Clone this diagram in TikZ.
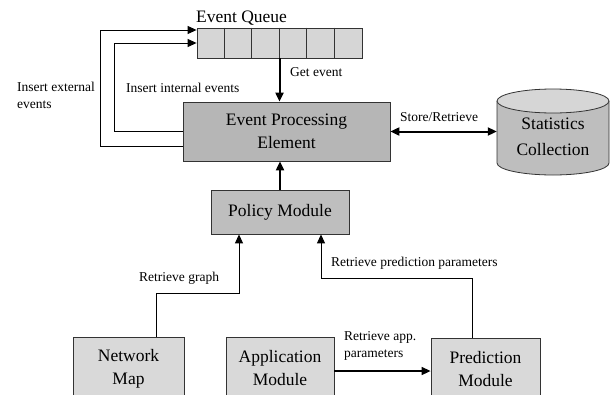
\documentclass[tikz,border=0pt]{standalone}
\usepackage{fontspec}
\setmainfont{Liberation Serif}
\usetikzlibrary{arrows.meta,calc}
\definecolor{queuefill}{HTML}{D6D6D6}
\definecolor{corefill}{HTML}{B6B6B6}
\definecolor{midfill}{HTML}{BEBEBE}
\definecolor{lowfill}{HTML}{D9D9D9}
\tikzset{
  box/.style={draw=black!80, line width=0.8pt, inner sep=0pt, align=center,
    font=\fontsize{17.5}{23}\selectfont},
  lbl/.style={inner sep=0pt, anchor=west, align=left,
    font=\fontsize{13.5}{17}\selectfont},
  link/.style={line width=1pt, -{Triangle[length=9pt,width=8pt]}},
  heavy/.style={line width=2pt, -{Triangle[length=9pt,width=8pt]}},
}
\begin{document}
\begin{tikzpicture}[x=1pt,y=-1pt]
\useasboundingbox (0,0) rectangle (612,394);
\clip (0,0) rectangle (612,394);

% event queue with six slots
\node[box, fill=queuefill, minimum width=165pt, minimum height=30pt] (queue) at (279.5,43) {};
\foreach \k in {1,...,5}
  \draw[black!80, line width=0.8pt] ($(queue.north west)+(27.5*\k,0)$) -- ($(queue.south west)+(27.5*\k,0)$);
\node[inner sep=0pt, font=\fontsize{17.5}{20}\selectfont] (qtitle) at (241.5,18) {Event Queue};

% main processing blocks
\node[box, fill=corefill, minimum width=207pt, minimum height=59pt] (epe) at (286.5,131.5) {Event Processing\\Element};
\node[box, fill=midfill, minimum width=138pt, minimum height=44pt] (pm) at (280,212) {Policy Module};

% statistics store drawn as a cylinder
\node[minimum width=112pt, minimum height=85pt, inner sep=0pt] (stats) at (553,131.5) {};
\fill[midfill] (497,101) -- (497,163) arc[start angle=180, end angle=0, x radius=56, y radius=12]
  -- (609,101) arc[start angle=0, end angle=-180, x radius=56, y radius=12] -- cycle;
\draw[black!80, line width=0.8pt] (497,101) -- (497,163) arc[start angle=180, end angle=0, x radius=56, y radius=12] -- (609,101);
\draw[black!80, line width=0.8pt, fill=queuefill] (553,101) ellipse[x radius=56, y radius=12];
\node[inner sep=0pt, align=center, font=\fontsize{17.5}{26}\selectfont] (statstext) at (553,137) {Statistics\\Collection};

% input modules along the bottom
\node[box, fill=lowfill, minimum width=111pt, minimum height=63pt] (nm) at (128.5,368.5) {Network\\Map};
\node[box, fill=lowfill, minimum width=108pt, minimum height=63pt] (am) at (280,368.5) {Application\\Module};
\node[box, fill=lowfill, minimum width=109pt, minimum height=63pt] (pred) at (485.5,369.5) {Prediction\\Module};

% connectors
\draw[heavy] (queue.south) -- (queue.south |- epe.north);
\draw[heavy] (pm.north) -- (pm.north |- epe.south);
\draw[line width=2pt, {Triangle[length=9pt,width=8pt]}-{Triangle[length=9pt,width=8pt]}] (epe.east) -- (epe.east -| stats.west);
\draw[link] ([yshift=-14.5pt]epe.west) -- ++(-82,0) |- ([yshift=13pt]queue.west);
\draw[link] (epe.west) -- ++(-68,0) |- (queue.west);
\draw[link] ([xshift=27.5pt]nm.north) -- ++(0,-43) -| ([xshift=-41pt]pm.south);
\draw[link] ([xshift=-13.5pt]pred.north) -- ++(0,-59) -| ([xshift=41pt]pm.south);
\draw[line width=1.5pt, -{Triangle[length=9pt,width=8pt]}] ([yshift=-2.5pt]am.east) -- ([yshift=-2.5pt]am.east -| pred.west);

% connector labels
\node[lbl] (l1) at (17,95.5) {Insert external\\events};
\node[lbl] (l2) at (126,88) {Insert internal events};
\node[lbl] (l3) at (290,72) {Get event};
\node[lbl] (l4) at (400,117) {Store/Retrieve};
\node[lbl] (l5) at (139,278) {Retrieve graph};
\node[lbl] (l6) at (331,263) {Retrieve prediction parameters};
\node[lbl] (l7) at (344,345.5) {Retrieve app.\\parameters};
\end{tikzpicture}
\end{document}
